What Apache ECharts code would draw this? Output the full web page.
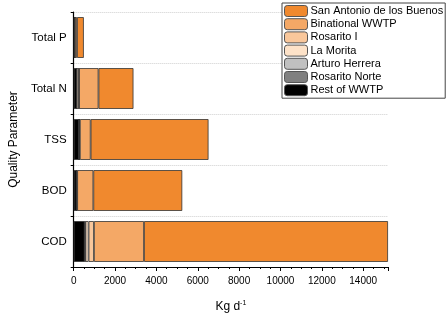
<!DOCTYPE html>
<html>
<head>
<meta charset="utf-8">
<script src="https://cdn.jsdelivr.net/npm/echarts@6/dist/echarts.min.js"></script>
<style>
  html, body { margin: 0; padding: 0; background: #fff; }
  #chart { width: 447px; height: 318px; }
</style>
</head>
<body>
<div id="chart"></div>
<script>
// categories bottom -> top (category axis draws first item at bottom)
const categories = ['COD', 'BOD', 'TSS', 'Total N', 'Total P'];

// kg/d per plant
const restWWTP      = [530, 140, 260, 150, 60];
const rosaritoNorte = [20, 0, 0, 0, 0];
const arturoHerrera = [20, 0, 0, 0, 0];
const laMorita      = [150, 10, 10, 110, 0];
const rosaritoI     = [260, 20, 30, 0, 0];
const binational    = [2420, 780, 520, 940, 100];
const sanAntonio    = [11800, 4300, 5700, 1690, 330];

const xTicks = [0, 2000, 4000, 6000, 8000, 10000, 12000, 14000];

const FONT = 'Arial, "Liberation Sans", sans-serif';

// stacking order, left to right
const plants = [
  { name: 'Rest of WWTP', data: restWWTP, color: '#000000' },
  { name: 'Rosarito Norte', data: rosaritoNorte, color: '#808080' },
  { name: 'Arturo Herrera', data: arturoHerrera, color: '#c0c0c0' },
  { name: 'La Morita', data: laMorita, color: '#fde2c8' },
  { name: 'Rosarito I', data: rosaritoI, color: '#f9c79b' },
  { name: 'Binational WWTP', data: binational, color: '#f4a866' },
  { name: 'San Antonio de los Buenos', data: sanAntonio, color: '#f0892e' }
];

const chart = echarts.init(document.getElementById('chart'));

chart.setOption({
  animation: false,
  textStyle: { fontFamily: FONT },
  grid: { left: 59.5, right: 59, top: 12, bottom: 45 },
  legend: {
    orient: 'vertical',
    left: 282,
    top: 3,
    data: plants.map(p => p.name).reverse(),
    itemWidth: 23,
    itemHeight: 11,
    itemGap: 1.2,
    padding: [2, 2, 2, 2],
    borderColor: '#444',
    borderWidth: 1,
    backgroundColor: '#fff',
    itemStyle: { borderColor: '#555', borderWidth: 1 },
    textStyle: { fontSize: 11, color: '#000', fontFamily: FONT, padding: [0, 0, 0, -2], lineHeight: 11 }
  },
  xAxis: {
    type: 'value',
    min: 0,
    max: 15200,
    interval: 2000,
    name: 'Kg d{sup|-1}',
    nameLocation: 'middle',
    nameGap: 33,
    nameTextStyle: {
      fontSize: 12, color: '#000', fontFamily: FONT,
      rich: { sup: { fontSize: 7, verticalAlign: 'top', padding: [0, 0, 7, 0], color: '#000' } }
    },
    axisLine: { show: true, lineStyle: { color: '#000', width: 1.2 } },
    axisTick: { show: true, length: 4, lineStyle: { color: '#000' } },
    minorTick: { show: true, splitNumber: 4, length: 2, lineStyle: { color: '#000' } },
    axisLabel: {
      fontSize: 10, color: '#000', margin: 9, showMaxLabel: false,
      formatter: v => (xTicks.indexOf(v) >= 0 ? String(v) : '')
    },
    splitLine: { show: false }
  },
  yAxis: {
    type: 'category',
    data: categories,
    name: 'Quality Parameter',
    nameLocation: 'middle',
    nameGap: 43,
    nameTextStyle: { fontSize: 12, color: '#000', fontFamily: FONT },
    axisLine: { show: true, lineStyle: { color: '#000', width: 1.2 } },
    axisTick: { show: true, length: 3, lineStyle: { color: '#000' } },
    axisLabel: { fontSize: 11.5, color: '#000', margin: 7 },
    splitLine: { show: true, lineStyle: { color: '#cfcfcf', type: 'dotted', width: 1 } }
  },
  series: plants.map(p => ({
    name: p.name,
    type: 'bar',
    stack: 'load',
    data: p.data,
    barCategoryGap: '20%',
    itemStyle: { color: p.color, borderColor: '#333', borderWidth: 0.8 }
  }))
});
</script>
</body>
</html>
